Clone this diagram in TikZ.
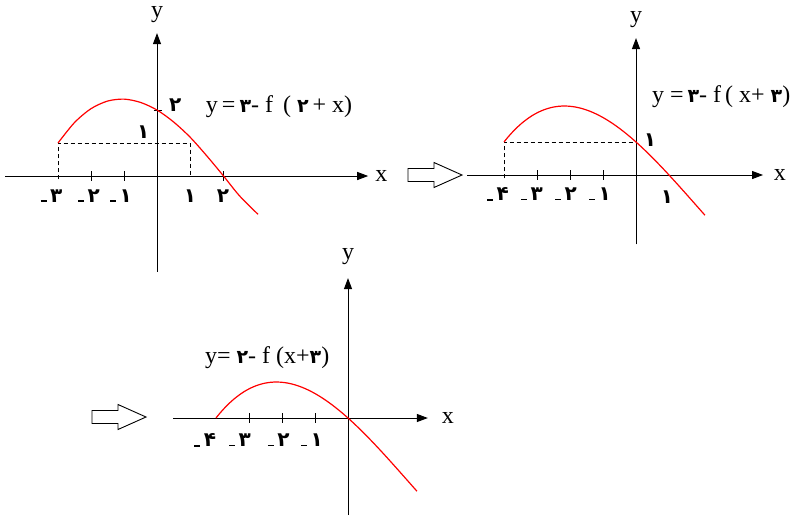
\documentclass[tikz,border=0pt]{standalone}
\usepackage{fontspec}
\setmainfont{Liberation Serif}
\newfontfamily\fa{DejaVu Sans}
\usetikzlibrary{arrows.meta}
\newcommand{\fd}[1]{{\fa\bfseries #1}}
\newcommand{\fe}[1]{{\fontsize{19}{22}\selectfont\fa\bfseries #1}}
\newcommand{\mn}[1]{\rule{6pt}{1.7pt}\hspace{3.5pt}\fd{#1}}
\newcommand{\latinsize}{\fontsize{24}{26}\selectfont}
\newcommand{\ticksize}{\fontsize{20}{22}\selectfont}

\begin{document}
\begin{tikzpicture}[x=1pt,y=-1pt,
    axisline/.style={line width=1pt,-{Triangle[length=11pt,width=8pt]}},
    tickmark/.style={line width=0.9pt},
    dashline/.style={line width=0.8pt,dash pattern=on 4pt off 3pt},
    redcurve/.style={red,line width=1.2pt},
    ticklbl/.style={font=\ticksize,inner sep=0pt},
    axislbl/.style={font=\latinsize,inner sep=0pt},
    eqlbl/.style={font=\latinsize,inner sep=0pt},
    hollowarrow/.pic={\draw[line width=0.9pt,fill=white]
      (0,-6.5pt) -- (26pt,-6.5pt) -- (26pt,-12.5pt) -- (54pt,0pt)
      -- (26pt,12.5pt) -- (26pt,6.5pt) -- (0,6.5pt) -- cycle;}]
  \useasboundingbox (0,0) rectangle (797,515);

  % first graph
  \begin{scope}[shift={(157,176)},x=33pt,y=33pt]
    \coordinate (xa1) at (-4.6,0);
    \coordinate (xb1) at (6.4,0);
    \coordinate (ya1) at (0,-2.9);
    \coordinate (yb1) at (0,4.33);
    \draw[axisline] (xa1) -- (xb1);
    \draw[axisline] (ya1) -- (yb1);
    \node[axislbl] (xl1) at (6.8,0) {x};
    \node[axislbl] (yl1) at (0,4.88) {y};
    \foreach \t in {-2,-1,0,2}
      \draw[tickmark] (\t,-0.15) -- (\t,0.15);
    \draw[tickmark] (-0.1,2) -- (0.15,2);
    \draw[dashline] (-3,-0.1) -- (-3,1) -- (1,1) -- (1,0);
    \draw[redcurve] plot[smooth] coordinates
      {(-3,1.0) (-2.5,1.62) (-2,2.04) (-1.5,2.27) (-1,2.33) (-0.5,2.23)
       (0,2) (0.5,1.64) (1,1.18) (1.5,0.62) (2,0.02) (2.5,-0.6) (3.06,-1.16)};
    \node[ticklbl] (m3a) at (-3.2,-0.6) {\mn{۳}};
    \node[ticklbl] (m2a) at (-2.06,-0.6) {\mn{۲}};
    \node[ticklbl] (m1a) at (-1.09,-0.6) {\mn{۱}};
    \node[ticklbl] (p1a) at (1,-0.6) {\fd{۱}};
    \node[ticklbl] (p2a) at (2,-0.6) {\fd{۲}};
    \node[ticklbl] (y1a) at (-0.42,1.33) {\fd{۱}};
    \node[ticklbl] (y2a) at (0.55,2.15) {\fd{۲}};
    \node[eqlbl] (eqa) at (3.7,2.1) {y\,=\,\fe{۳}- f\, ( \fe{۲}\,+ x)};
  \end{scope}

  \pic at (408,175) {hollowarrow};

  % second graph
  \begin{scope}[shift={(636,175)},x=33pt,y=33pt]
    \coordinate (xa2) at (-5.12,0);
    \coordinate (xb2) at (3.85,0);
    \coordinate (ya2) at (0,-2.1);
    \coordinate (yb2) at (0,4.15);
    \draw[axisline] (xa2) -- (xb2);
    \draw[axisline] (ya2) -- (yb2);
    \node[axislbl] (xl2) at (4.36,0) {x};
    \node[axislbl] (yl2) at (0,4.7) {y};
    \foreach \t in {-3,-2,-1,0}
      \draw[tickmark] (\t,-0.15) -- (\t,0.15);
    \draw[dashline] (-4,-0.1) -- (-4,1) -- (0,1);
    \draw[redcurve] plot[domain=-4:2.09,samples=60]
      (\x,{1-0.8941*\x-0.1294*\x*\x+0.02352*\x*\x*\x});
    \node[ticklbl] (m4b) at (-4.18,-0.58) {\mn{۴}};
    \node[ticklbl] (m3b) at (-3.15,-0.58) {\mn{۳}};
    \node[ticklbl] (m2b) at (-2.12,-0.58) {\mn{۲}};
    \node[ticklbl] (m1b) at (-1.09,-0.58) {\mn{۱}};
    \node[ticklbl] (p1b) at (0.94,-0.68) {\fd{۱}};
    \node[ticklbl] (y1b) at (0.42,1.06) {\fd{۱}};
    \node[eqlbl,anchor=west] (eqb) at (0.48,2.36) {y =\,\fe{۳}- f\,( x+ \fe{۳})};
  \end{scope}

  \pic at (92,417) {hollowarrow};

  % third graph
  \begin{scope}[shift={(348,418)},x=33pt,y=33pt]
    \coordinate (xa3) at (-5.3,0);
    \coordinate (xb3) at (2.42,0);
    \coordinate (ya3) at (0,-2.94);
    \coordinate (yb3) at (0,4.24);
    \draw[axisline] (xa3) -- (xb3);
    \draw[axisline] (ya3) -- (yb3);
    \node[axislbl] (xl3) at (3.03,0) {x};
    \node[axislbl] (yl3) at (0,4.88) {y};
    \foreach \t in {-3,-2,-1}
      \draw[tickmark] (\t,-0.15) -- (\t,0.15);
    \draw[redcurve] plot[domain=-4:2.09,samples=60]
      (\x,{-0.8941*\x-0.1294*\x*\x+0.02352*\x*\x*\x});
    \node[ticklbl] (m4c) at (-4.33,-0.67) {\mn{۴}};
    \node[ticklbl] (m3c) at (-3.27,-0.67) {\mn{۳}};
    \node[ticklbl] (m2c) at (-2.1,-0.67) {\mn{۲}};
    \node[ticklbl] (m1c) at (-1.09,-0.67) {\mn{۱}};
    \node[eqlbl] (eqc) at (-2.45,1.82) {y= \fe{۲}- f (x+\fe{۳})};
  \end{scope}
\end{tikzpicture}
\end{document}
